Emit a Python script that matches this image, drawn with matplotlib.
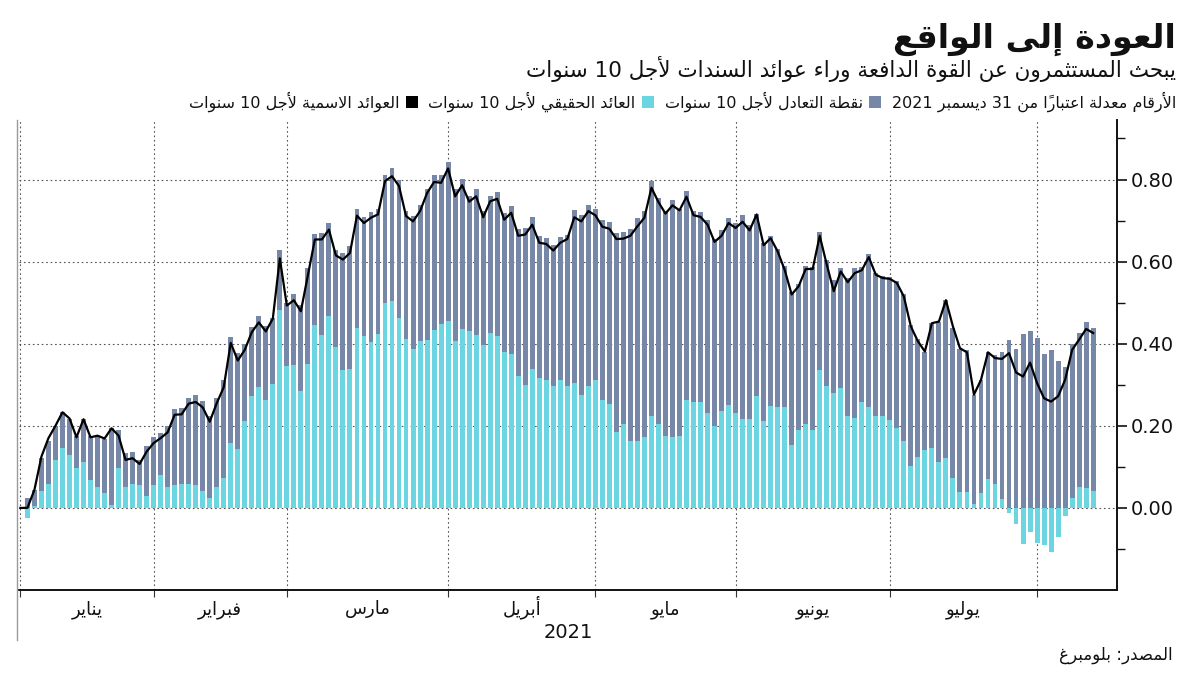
import matplotlib
matplotlib.use("Agg")
import matplotlib.pyplot as plt
from matplotlib.lines import Line2D
from matplotlib.patches import Rectangle
import numpy as np
import pandas as pd

plt.rcParams['font.family'] = ['DejaVu Sans']

# ---------------- data (change since 31 Dec, percentage points) ----------------
holidays = ['2021-01-01', '2021-01-18', '2021-02-15', '2021-04-02', '2021-05-31', '2021-07-05']
n_days = 154

real_yield = [
    0.000, -0.025, 0.005, 0.040, 0.059, 0.117, 0.147, 0.129, 0.097, 0.113,
    0.068, 0.050, 0.036, 0.007, 0.098, 0.050, 0.059, 0.056, 0.029, 0.056,
    0.079, 0.052, 0.056, 0.058, 0.058, 0.056, 0.042, 0.023, 0.052, 0.074,
    0.159, 0.144, 0.212, 0.273, 0.294, 0.262, 0.302, 0.481, 0.345, 0.349,
    0.284, 0.351, 0.446, 0.422, 0.467, 0.393, 0.337, 0.339, 0.438, 0.420,
    0.403, 0.424, 0.499, 0.503, 0.463, 0.412, 0.387, 0.407, 0.408, 0.434,
    0.449, 0.456, 0.406, 0.436, 0.430, 0.422, 0.398, 0.426, 0.420, 0.379,
    0.376, 0.322, 0.300, 0.339, 0.317, 0.312, 0.298, 0.311, 0.296, 0.304,
    0.276, 0.298, 0.312, 0.262, 0.254, 0.184, 0.205, 0.162, 0.162, 0.172,
    0.223, 0.205, 0.174, 0.172, 0.174, 0.263, 0.258, 0.258, 0.231, 0.200,
    0.237, 0.251, 0.231, 0.216, 0.216, 0.273, 0.211, 0.249, 0.245, 0.245,
    0.154, 0.191, 0.205, 0.189, 0.337, 0.296, 0.281, 0.292, 0.225, 0.219,
    0.257, 0.246, 0.223, 0.223, 0.215, 0.194, 0.164, 0.101, 0.125, 0.140,
    0.147, 0.113, 0.121, 0.074, 0.039, 0.039, 0.010, 0.037, 0.071, 0.058,
    0.021, -0.013, -0.039, -0.088, -0.058, -0.086, -0.090, -0.107, -0.072, -0.019,
    0.024, 0.050, 0.048, 0.040,
]
breakeven = [
    0.000, 0.024, 0.039, 0.081, 0.104, 0.083, 0.087, 0.087, 0.077, 0.103,
    0.106, 0.126, 0.133, 0.187, 0.091, 0.083, 0.078, 0.061, 0.121, 0.116,
    0.104, 0.148, 0.186, 0.186, 0.210, 0.219, 0.219, 0.200, 0.215, 0.238,
    0.257, 0.233, 0.188, 0.167, 0.173, 0.180, 0.161, 0.148, 0.155, 0.172,
    0.211, 0.234, 0.222, 0.248, 0.227, 0.235, 0.283, 0.298, 0.289, 0.289,
    0.317, 0.303, 0.311, 0.324, 0.335, 0.311, 0.324, 0.332, 0.370, 0.376,
    0.361, 0.387, 0.371, 0.366, 0.331, 0.355, 0.325, 0.335, 0.350, 0.340,
    0.359, 0.358, 0.382, 0.370, 0.346, 0.346, 0.343, 0.349, 0.369, 0.421,
    0.437, 0.441, 0.417, 0.439, 0.443, 0.486, 0.468, 0.518, 0.545, 0.551,
    0.573, 0.549, 0.549, 0.577, 0.553, 0.509, 0.465, 0.462, 0.470, 0.454,
    0.441, 0.456, 0.462, 0.497, 0.474, 0.444, 0.434, 0.413, 0.385, 0.345,
    0.371, 0.355, 0.385, 0.399, 0.335, 0.307, 0.274, 0.293, 0.335, 0.366,
    0.330, 0.372, 0.349, 0.343, 0.347, 0.358, 0.356, 0.344, 0.286, 0.241,
    0.303, 0.341, 0.386, 0.364, 0.348, 0.345, 0.266, 0.275, 0.308, 0.314,
    0.358, 0.408, 0.387, 0.424, 0.432, 0.415, 0.375, 0.384, 0.359, 0.343,
    0.376, 0.376, 0.404, 0.398,
]
nominal = [
    0.000, 0.000, 0.044, 0.125, 0.170, 0.200, 0.233, 0.218, 0.172, 0.216,
    0.172, 0.176, 0.169, 0.194, 0.176, 0.117, 0.121, 0.107, 0.137, 0.158,
    0.170, 0.184, 0.227, 0.228, 0.254, 0.258, 0.245, 0.210, 0.255, 0.294,
    0.402, 0.359, 0.385, 0.428, 0.452, 0.430, 0.461, 0.608, 0.493, 0.506,
    0.479, 0.566, 0.654, 0.654, 0.678, 0.615, 0.605, 0.621, 0.712, 0.694,
    0.707, 0.715, 0.796, 0.808, 0.784, 0.711, 0.698, 0.723, 0.767, 0.794,
    0.792, 0.827, 0.759, 0.786, 0.746, 0.759, 0.708, 0.747, 0.753, 0.702,
    0.719, 0.663, 0.666, 0.690, 0.646, 0.643, 0.627, 0.646, 0.655, 0.708,
    0.698, 0.723, 0.713, 0.685, 0.680, 0.655, 0.656, 0.663, 0.686, 0.707,
    0.780, 0.745, 0.717, 0.737, 0.725, 0.758, 0.713, 0.709, 0.690, 0.648,
    0.663, 0.694, 0.682, 0.697, 0.676, 0.715, 0.640, 0.657, 0.625, 0.580,
    0.520, 0.540, 0.582, 0.582, 0.663, 0.593, 0.528, 0.576, 0.550, 0.572,
    0.579, 0.611, 0.568, 0.560, 0.558, 0.548, 0.515, 0.442, 0.406, 0.381,
    0.450, 0.454, 0.506, 0.442, 0.389, 0.379, 0.276, 0.312, 0.379, 0.365,
    0.363, 0.377, 0.330, 0.320, 0.354, 0.304, 0.267, 0.259, 0.272, 0.312,
    0.385, 0.410, 0.436, 0.426,
]
month_names = ['يناير', 'فبراير', 'مارس', 'أبريل', 'مايو', 'يونيو', 'يوليو']
y_ticks = [0.0, 0.2, 0.4, 0.6, 0.8]

title = 'العودة إلى الواقع'
subtitle = 'يبحث المستثمرون عن القوة الدافعة وراء عوائد السندات لأجل 10 سنوات'
note = 'الأرقام معدلة اعتباراً من 31 ديسمبر 2021'
legend_labels = ['نقطة التعادل لأجل 10 سنوات', 'العائد الحقيقي لأجل 10 سنوات',
                 'العوائد الاسمية لأجل 10 سنوات']
source = 'المصدر: بلومبرغ'
year_label = '2021'

C_BE = '#7687a8'
C_REAL = '#6bd5e2'
C_NOM = '#000000'

# ---------------- minimal Arabic shaping (presentation forms) + visual order ----------------
DUAL = {'ئ': 0xFE89, 'ب': 0xFE8F, 'ت': 0xFE95, 'ث': 0xFE99, 'ج': 0xFE9D, 'ح': 0xFEA1,
        'خ': 0xFEA5, 'س': 0xFEB1, 'ش': 0xFEB5, 'ص': 0xFEB9, 'ض': 0xFEBD, 'ط': 0xFEC1,
        'ظ': 0xFEC5, 'ع': 0xFEC9, 'غ': 0xFECD, 'ف': 0xFED1, 'ق': 0xFED5, 'ك': 0xFED9,
        'ل': 0xFEDD, 'م': 0xFEE1, 'ن': 0xFEE5, 'ه': 0xFEE9, 'ي': 0xFEF1}
RIGHT = {'آ': 0xFE81, 'أ': 0xFE83, 'ؤ': 0xFE85, 'إ': 0xFE87, 'ا': 0xFE8D, 'ة': 0xFE93,
         'د': 0xFEA9, 'ذ': 0xFEAB, 'ر': 0xFEAD, 'ز': 0xFEAF, 'و': 0xFEED, 'ى': 0xFEEF}
LAMALEF = {'آ': 0xFEF5, 'أ': 0xFEF7, 'إ': 0xFEF9, 'ا': 0xFEFB}


def _is_mark(ch):
    return '\u064B' <= ch <= '\u0652'


def ar(text):
    items = []
    for ch in text:
        if _is_mark(ch) and items:
            items[-1][1] += ch
        else:
            items.append([ch, ''])
    merged = []
    i = 0
    while i < len(items):
        ch, mk = items[i]
        if ch == 'ل' and i + 1 < len(items) and items[i + 1][0] in LAMALEF:
            merged.append([('LA', items[i + 1][0]), mk + items[i + 1][1]])
            i += 2
        else:
            merged.append([ch, mk])
            i += 1

    def jt(c):
        if isinstance(c, tuple):
            return 'R'
        if c in DUAL:
            return 'D'
        if c in RIGHT:
            return 'R'
        return 'U'

    clusters = []
    n = len(merged)
    for i, (c, mk) in enumerate(merged):
        t = jt(c)
        p = t in 'DR' and i > 0 and jt(merged[i - 1][0]) == 'D'
        nx = t == 'D' and i + 1 < n and jt(merged[i + 1][0]) in 'DR'
        if isinstance(c, tuple):
            g = chr(LAMALEF[c[1]] + (1 if p else 0))
        elif t == 'D':
            g = chr(DUAL[c] + (3 if (p and nx) else 1 if p else 2 if nx else 0))
        elif t == 'R':
            g = chr(RIGHT[c] + (1 if p else 0))
        else:
            g = c
        ltr = (not isinstance(c, tuple)) and (c.isascii() and (c.isalnum() or c == '.'))
        clusters.append((g + mk, ltr))
    clusters.reverse()
    out, run = [], []
    for s, ltr in clusters:
        if ltr:
            run.append(s)
        else:
            if run:
                out.extend(reversed(run))
                run = []
            out.append(s)
    if run:
        out.extend(reversed(run))
    return ''.join(out)


# ---------------- figure ----------------
W, H = 1200, 675
fig = plt.figure(figsize=(W / 100, H / 100), dpi=100)
fig.patch.set_facecolor('white')


def fx(px):
    return px / W


def fy(py):
    return 1 - py / H


ax = fig.add_axes([fx(19), fy(590), fx(1117) - fx(19), fy(120) - fy(590)])

dates = pd.bdate_range('2020-12-31', periods=n_days, freq='C', holidays=holidays)
x = np.arange(len(dates))
real = np.array(real_yield)
be = np.array(breakeven)
nom = np.array(nominal)

bw = 0.70
be_bottom = np.where(real > 0, real, 0.0)
ax.bar(x, real, bw, color=C_REAL, zorder=2, linewidth=0)
ax.bar(x, be, bw, bottom=be_bottom, color=C_BE, zorder=2, linewidth=0)
ax.plot(x, nom, color=C_NOM, lw=1.6, zorder=3)

# month-end positions (last business day of each month)
s = pd.Series(x, index=dates)
month_end_idx = s.groupby(dates.to_period('M')).max().values
month_ends = list(month_end_idx[:-1])  # Dec .. Jul

ax.set_xlim(-0.2, 156.4)
ax.set_ylim(-0.2, 0.945)

grid_kw = dict(color='#555555', lw=0.8, ls=(0, (1.5, 2.5)), zorder=1)
for yv in y_ticks:
    ax.axhline(yv, **grid_kw)
for xv in month_ends:
    ax.axvline(xv, **grid_kw)

# axes styling
for side in ['left', 'top']:
    ax.spines[side].set_visible(False)
ax.spines['right'].set_linewidth(1.4)
ax.spines['bottom'].set_linewidth(1.4)
ax.spines['right'].set_color('#111111')
ax.spines['bottom'].set_color('#111111')

ax.yaxis.tick_right()
ax.set_yticks(y_ticks)
ax.set_yticklabels(['%.2f' % v for v in y_ticks])
ax.set_yticks([-0.1, 0.1, 0.3, 0.5, 0.7, 0.9], minor=True)
ax.tick_params(axis='y', which='major', length=7, width=1.2, pad=3, labelsize=14, colors='#111111')
ax.tick_params(axis='y', which='minor', length=6, width=1.0, colors='#111111')

ax.set_xticks(month_ends)
ax.set_xticklabels([])
ax.tick_params(axis='x', which='major', length=5, width=0.8, direction='out', colors='#333333')
centers = [(month_ends[i] + month_ends[i + 1]) / 2 for i in range(len(month_ends) - 1)]
xt = ax.get_xaxis_transform()
label_base = (H - 614) / H  # baseline in figure fraction
for c, name in zip(centers, month_names):
    xd = ax.transData.transform((c, 0))[0] / W
    fig.text(xd, label_base, ar(name), ha='center', va='baseline', fontsize=13, color='#111111')

# left thin gray rule
fig.add_artist(Line2D([fx(17), fx(17)], [fy(120), fy(640)], color='#9a9a9a', lw=1.0))

# year label
fig.text(fx(568), fy(638), year_label, ha='center', va='baseline', fontsize=14, color='#111111')

# titles
fig.text(fx(1176), fy(48), ar(title), ha='right', va='baseline', fontsize=24,
         fontweight='bold', color='#111111')
fig.text(fx(1176), fy(77), ar(subtitle), ha='right', va='baseline', fontsize=15.5, color='#111111')

# legend row (right to left chain)
renderer = fig.canvas.get_renderer()
leg_y = fy(102)
cur = 1176
t = fig.text(fx(cur), leg_y, ar(note), ha='right', va='center', fontsize=11.5, color='#111111')
bb = t.get_window_extent(renderer)
cur = bb.x0
for lab, col in zip(legend_labels, [C_BE, C_REAL, C_NOM]):
    cur -= 11
    fig.add_artist(Rectangle((fx(cur - 12), leg_y - 6 / H), 12 / W, 12 / H,
                             transform=fig.transFigure, color=col, lw=0))
    cur -= 12 + 6
    t = fig.text(fx(cur), leg_y, ar(lab), ha='right', va='center', fontsize=11.5, color='#111111')
    bb = t.get_window_extent(renderer)
    cur = bb.x0

# source
fig.text(fx(1173), fy(660), ar(source), ha='right', va='baseline', fontsize=12, color='#111111')

fig.savefig('out.png', dpi=100, facecolor='white')
